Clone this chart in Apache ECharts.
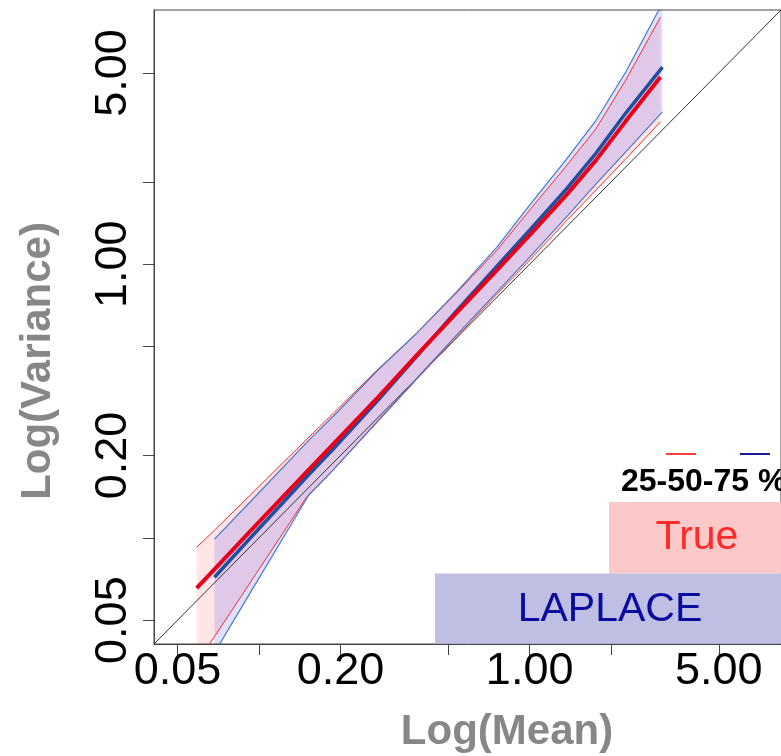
<!DOCTYPE html>
<html><head><meta charset="utf-8">
<script src="https://cdn.jsdelivr.net/npm/echarts@6/dist/echarts.min.js"></script>
<style>html,body{margin:0;padding:0;background:#fff}#c{width:781px;height:756px}</style>
</head><body><div id="c"></div>
<script>
// axis range and ticks (same for both log axes)
const axisRange = [0.0409, 8.49];
const tickValues = [0.05, 0.1, 0.2, 0.5, 1, 2, 5];
const labelValues = [0.05, 0.2, 1, 5];

// "True" model: mean and 25/50/75 % quantiles of variance
const trueMean = [0.0588, 0.0684, 0.0919, 0.150, 0.188, 0.275, 0.386, 0.540, 0.757, 1.000, 1.366, 1.760, 2.266, 3.044];
const trueQ25  = [0.0346, 0.0435, 0.0676, 0.141, 0.177, 0.266, 0.383, 0.545, 0.776, 1.034, 1.437, 1.867, 2.424, 3.311];
const trueQ50  = [0.0654, 0.0767, 0.1047, 0.174, 0.220, 0.326, 0.469, 0.668, 0.951, 1.276, 1.788, 2.400, 3.333, 4.829];
const trueQ75  = [0.0923, 0.1065, 0.142, 0.229, 0.285, 0.413, 0.564, 0.790, 1.125, 1.576, 2.286, 3.130, 4.710, 8.000];

// "LAPLACE" model
const lapMean = [0.0684, 0.0919, 0.1525, 0.188, 0.275, 0.386, 0.540, 0.757, 1.000, 1.366, 1.760, 2.266, 3.096];
const lapQ25  = [0.0380, 0.0620, 0.143, 0.177, 0.268, 0.386, 0.554, 0.790, 1.061, 1.486, 1.964, 2.571, 3.603];
const lapQ50  = [0.0717, 0.0988, 0.170, 0.211, 0.318, 0.465, 0.679, 0.983, 1.331, 1.880, 2.546, 3.566, 5.253];
const lapQ75  = [0.0988, 0.134, 0.227, 0.278, 0.410, 0.564, 0.797, 1.154, 1.643, 2.415, 3.356, 5.036, 9.000];

const legendTitle = '25-50-75 %';
const seriesNames = ['True', 'LAPLACE'];

const zip = (xs, ys) => xs.map((x, i) => [x, ys[i]]);

function band(name, xs, lo, hi, fill) {
  return {
    type: 'custom', name: name + ' band', silent: true, z: 1,
    data: [[1, 1]],
    renderItem: (params, api) => {
      const pts = [];
      for (let i = 0; i < xs.length; i++) pts.push(api.coord([xs[i], lo[i]]));
      for (let i = xs.length - 1; i >= 0; i--) pts.push(api.coord([xs[i], hi[i]]));
      const cs = params.coordSys;
      return {
        type: 'polygon', shape: { points: pts }, style: { fill: fill },
        clipPath: { type: 'rect', shape: { x: cs.x, y: cs.y, width: cs.width, height: cs.height } }
      };
    }
  };
}
function line(name, xs, ys, color, width, z) {
  return {
    type: 'line', name: name, data: zip(xs, ys), showSymbol: false, symbol: 'none',
    silent: true, clip: true, z: z, smooth: false,
    lineStyle: { color: color, width: width }
  };
}

const axisCommon = {
  type: 'log', logBase: 10, min: axisRange[0], max: axisRange[1],
  axisLine: { show: true, lineStyle: { color: '#444', width: 1 } },
  axisTick: { show: true, customValues: tickValues, length: 11, lineStyle: { color: '#444', width: 1 } },
  splitLine: { show: false },
  minorTick: { show: false },
  axisLabel: {
    customValues: labelValues, color: '#000', fontSize: 45,
    fontFamily: 'Liberation Sans, Arial, sans-serif',
    formatter: v => Number(v).toFixed(2)
  }
};

const chart = echarts.init(document.getElementById('c'), null, { renderer: 'canvas' });
chart.setOption({
  animation: false,
  backgroundColor: '#ffffff',
  grid: { left: 154, top: 10, width: 632, height: 634, show: true, borderColor: '#444', borderWidth: 1, backgroundColor: 'transparent' },
  xAxis: Object.assign({}, axisCommon, {
    axisLabel: Object.assign({}, axisCommon.axisLabel, { margin: 5 })
  }),
  yAxis: Object.assign({}, axisCommon, {
    axisLabel: Object.assign({}, axisCommon.axisLabel, { rotate: 90, margin: 18 })
  }),
  series: [
    band('True', trueMean, trueQ25, trueQ75, 'rgba(255,0,0,0.10)'),
    band('LAPLACE', lapMean, lapQ25, lapQ75, 'rgba(0,0,255,0.12)'),
    line('diag', axisRange, axisRange, '#333', 1, 3),
    line('True 25%', trueMean, trueQ25, '#f03030', 1, 4),
    line('True 75%', trueMean, trueQ75, '#f03030', 1, 4),
    line('LAPLACE 25%', lapMean, lapQ25, '#4a78c8', 1.2, 4),
    line('LAPLACE 75%', lapMean, lapQ75, '#4a78c8', 1.2, 4),
    line('LAPLACE 50%', lapMean, lapQ50, '#1f4f9e', 3.5, 5),
    line('True 50%', trueMean, trueQ50, '#e8001a', 4, 6)
  ],
  graphic: [
    { type: 'text', x: 38, y: 361, rotation: Math.PI / 2, z: 10,
      style: { text: 'Log(Variance)', fill: '#878787', font: 'bold 42px "Liberation Sans", Arial, sans-serif', textAlign: 'center', textVerticalAlign: 'middle' } },
    { type: 'text', x: 507, y: 732, z: 10,
      style: { text: 'Log(Mean)', fill: '#878787', font: 'bold 42px "Liberation Sans", Arial, sans-serif', textAlign: 'center', textVerticalAlign: 'middle' } },
    { type: 'line', z: 10, shape: { x1: 666, y1: 454, x2: 696, y2: 454 }, style: { stroke: '#ff3b3b', lineWidth: 2 } },
    { type: 'line', z: 10, shape: { x1: 740, y1: 454, x2: 770, y2: 454 }, style: { stroke: '#1a1a9a', lineWidth: 2 } },
    { type: 'text', x: 621, y: 482, z: 10,
      style: { text: legendTitle, fill: '#000', font: 'bold 32px "Liberation Sans", Arial, sans-serif', textAlign: 'left', textVerticalAlign: 'middle' } },
    { type: 'rect', z: 8, shape: { x: 609, y: 502, width: 177, height: 71.5 }, style: { fill: '#fdc8c8' } },
    { type: 'text', x: 697, y: 538, z: 10,
      style: { text: seriesNames[0], fill: '#ff2a2a', font: '41px "Liberation Sans", Arial, sans-serif', textAlign: 'center', textVerticalAlign: 'middle' } },
    { type: 'rect', z: 8, shape: { x: 435, y: 573.5, width: 351, height: 70 }, style: { fill: '#bfbfe3' } },
    { type: 'text', x: 610, y: 610, z: 10,
      style: { text: seriesNames[1], fill: '#0a0a9e', font: '41px "Liberation Sans", Arial, sans-serif', textAlign: 'center', textVerticalAlign: 'middle' } }
  ]
});
</script></body></html>
